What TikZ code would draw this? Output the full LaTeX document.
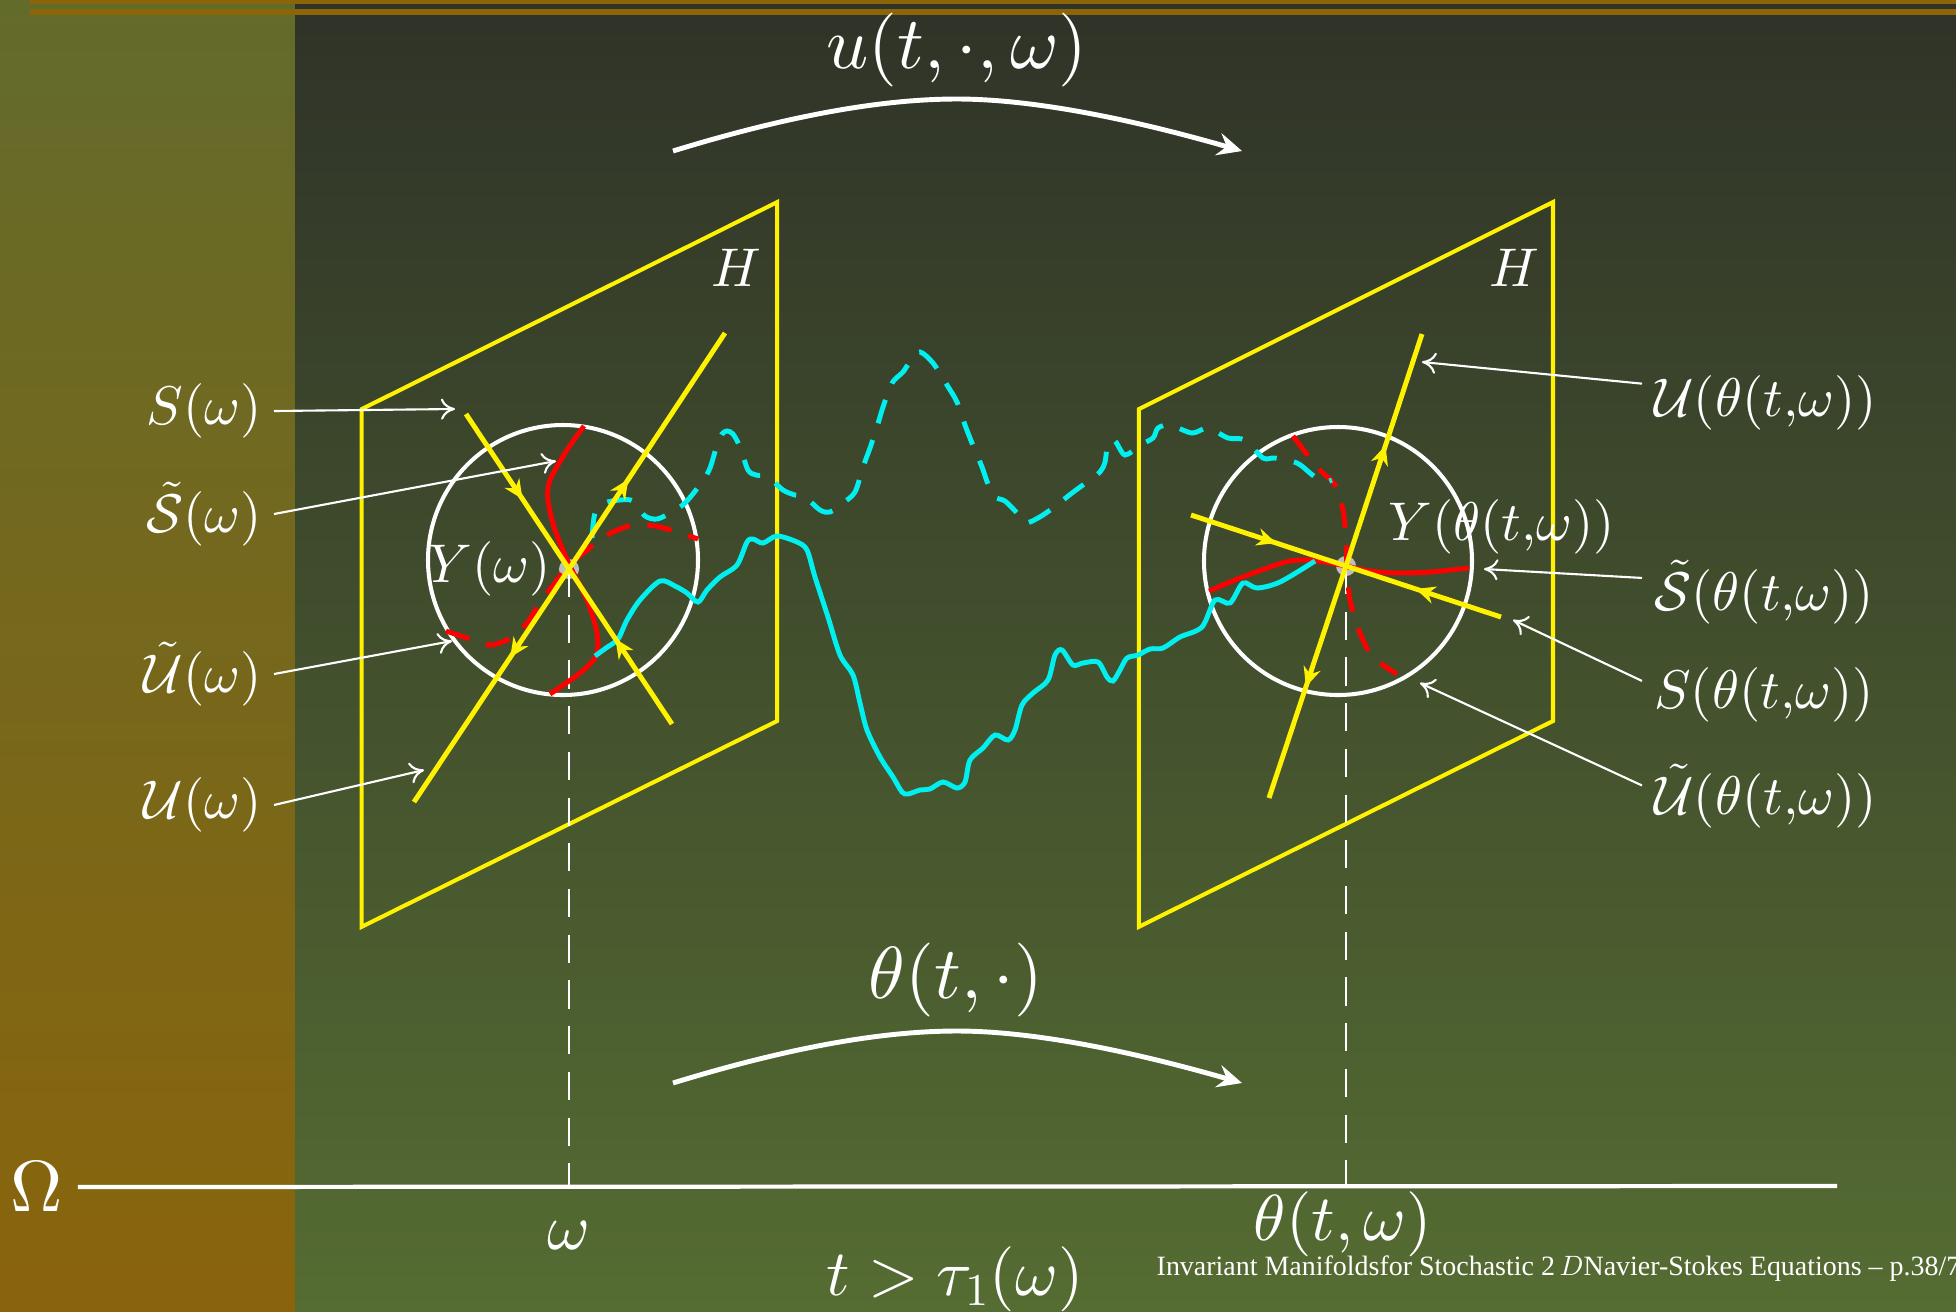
\documentclass[tikz,border=0pt]{standalone}
\usepackage{fontspec}
\usepackage{tikz}
\usetikzlibrary{positioning, arrows.meta, decorations.markings}
\DeclareFontShape{OML}{cmm}{m}{it}{<->cmmi10}{\skewchar\font=127}
\DeclareFontShape{OMS}{cmsy}{m}{n}{<->cmsy10}{\skewchar\font=48}
\DeclareFontShape{OMX}{cmex}{m}{n}{<->cmex10}{}
\DeclareFontShape{OT1}{cmr}{m}{n}{<->cmr10}{}
\newfontfamily\footfont{Liberation Serif}
\definecolor{stripetop}{HTML}{636B2B}
\definecolor{stripebottom}{HTML}{8A640C}
\definecolor{slidetop}{HTML}{2F3328}
\definecolor{slidebottom}{HTML}{556C32}
\definecolor{barbrown}{HTML}{8B6508}
\definecolor{dotgray}{HTML}{BEBEBE}
\definecolor{pathcyan}{HTML}{00F0F0}

\begin{document}
\begin{tikzpicture}[x=0.01cm, y=-0.01cm,
    lab/.style={text=white, font=\fontsize{15.5}{18}\selectfont},
    biglab/.style={text=white, font=\fontsize{21}{25}\selectfont},
    axlab/.style={text=white, font=\fontsize{18.5}{22}\selectfont},
    plane/.style={draw=yellow, line width=1.15pt},
    ball/.style={draw=white, line width=1.15pt},
    manif/.style={draw=yellow, line width=1.4pt},
    redline/.style={draw=red, line width=1.4pt},
    cyanline/.style={draw=pathcyan, line width=1.4pt},
    dashy/.style={dash pattern=on 7pt off 5pt},
    drop/.style={draw=white, line width=0.6pt, dash pattern=on 8pt off 5pt},
    ptr/.style={draw=white, line width=0.6pt, -{To[length=4pt, width=6pt]}},
    flow/.style={draw=white, line width=1.4pt, -{Stealth[length=7pt, width=6.5pt, inset=2.5pt]}},
    ydot/.style={circle, fill=dotgray, minimum size=0.2cm, inner sep=0pt},
    tipat/.style={postaction={decorate, decoration={markings,
      mark=at position #1 with {\arrow{Stealth[length=5.5pt, width=5pt, inset=1.8pt]}}}}}]
  \useasboundingbox (0,0) rectangle (1956,1311);
  \shade[top color=stripetop, bottom color=stripebottom] (0,0) rectangle (295,1311);
  \shade[top color=slidetop, bottom color=slidebottom] (295,0) rectangle (1956,1311);
  \fill[barbrown] (30,0) rectangle (1956,4.3);
  \fill[barbrown] (30,9) rectangle (1956,15);

  % the two copies of H
  \draw[plane] (361.7,409.1) -- (777.1,202.1) -- (777.1,721) -- (361.7,926.8) -- cycle;
  \draw[plane] (1138.9,409.1) -- (1553,202.1) -- (1553,721) -- (1138.9,926.8) -- cycle;
  \node[lab] (H1) at (736,268) {$H$};
  \node[lab] (H2) at (1514,268) {$H$};

  \draw[ball] (563,560) circle (135);
  \draw[ball] (1338,561) circle (134);
  \node[ydot] (Y1) at (569,569) {};
  \node[ydot] (Y2) at (1346,566) {};

  % base space
  \node[text=white, font=\fontsize{20.6}{24}\selectfont, inner sep=4pt] (Om) at (37,1187) {$\Omega$};
  \coordinate (omEnd) at (1837,1186);
  \draw[white, line width=1.2pt] (Om.east) -- (omEnd);
  \draw[drop] (Y1.center) -- (Y1.center |- omEnd);
  \draw[drop] (Y2.center) -- (Y2.center |- omEnd);
  \node[axlab] (lw) at (569,1235) {$\omega$};
  \node[axlab] (ltw) at (1343,1224) {$\theta(t,\omega)$};
  \node[axlab] (ltau) at (955,1279) {$t>\tau_1(\omega)$};

  % local manifolds
  \draw[redline] plot[smooth] coordinates {(584,426) (567,450) (550,480) (548,500) (555,530)
    (569,564) (587,600) (597,633) (596,656) (580,673) (550,694)};
  \draw[redline, dashy] plot[smooth] coordinates {(446,631) (467,638) (490,645) (513,637)
    (527,623) (540,603) (557,580) (569,565) (587,550) (607,535) (633,525) (660,527) (698,539)};
  \draw[redline] plot[smooth] coordinates {(1209,591) (1240,578) (1270,567) (1290,561) (1310,560)
    (1330,563) (1346,566) (1370,571) (1397,573) (1430,572) (1469,568)};
  \draw[redline, dashy] plot[smooth] coordinates {(1293,436) (1317,467) (1335,485) (1343,510)
    (1346,540) (1347,567) (1350,600) (1360,633) (1373,657) (1397,674)};

  % trajectories
  \draw[cyanline] plot[smooth] coordinates {(595,656) (606,648) (618,639) (627,620) (640,600)
    (660,581) (675,586) (687,593) (698,602) (707,590) (720,577) (737,565) (747,542) (753,539)
    (763,543) (777,536) (797,542) (807,550) (815,577) (828,617) (840,655) (853,675) (860,703)
    (867,730) (880,757) (893,777) (902,792) (908,794) (920,790) (930,789) (943,782) (957,788)
    (965,782) (970,760) (983,748) (995,735) (1008,740) (1015,730) (1022,705) (1033,693)
    (1048,680) (1055,655) (1062,650) (1073,665) (1083,663) (1098,662) (1107,677) (1113,681)
    (1120,670) (1127,658) (1138,655) (1150,649) (1163,648) (1180,637) (1202,627) (1215,600)
    (1230,603) (1243,583) (1257,588) (1280,582) (1315,561)};
  \draw[cyanline, dashy] plot[smooth] coordinates {(592,538) (595,513) (605,503) (620,500)
    (633,501) (645,516) (657,519) (670,513) (685,503) (702,482) (710,468) (717,445) (722,434)
    (727,431) (733,434) (740,447) (748,470) (756,475) (768,477) (783,490) (795,495) (805,497)
    (820,510) (830,512) (843,503) (855,492) (863,467) (870,448) (877,427) (883,407) (892,383)
    (903,372) (911,360) (920,352) (933,363) (947,385) (957,402) (965,425) (972,443) (982,467)
    (988,484) (995,497) (1005,501) (1017,513) (1025,523) (1038,518) (1053,508) (1072,493)
    (1087,482) (1100,472) (1105,462) (1108,443) (1115,441) (1125,455) (1140,445) (1153,438)
    (1158,428) (1170,425) (1192,433) (1208,428) (1228,438) (1245,440) (1263,458) (1275,458)
    (1297,463) (1310,473) (1322,482) (1332,480)};

  % stable and unstable directions
  \coordinate (s1a) at (466,414);
  \coordinate (s1b) at (672,724);
  \coordinate (u1a) at (725,333);
  \coordinate (u1b) at (414,802);
  \draw[manif, tipat=0.55] (s1a) -- (Y1.center);
  \draw[manif, tipat=0.55] (s1b) -- (Y1.center);
  \draw[manif, tipat=0.38] (Y1.center) -- (u1a);
  \draw[manif, tipat=0.38] (Y1.center) -- (u1b);
  \coordinate (s2a) at (1191,515);
  \coordinate (s2b) at (1501,617);
  \coordinate (u2a) at (1422,334);
  \coordinate (u2b) at (1269,798);
  \draw[manif, tipat=0.55] (s2a) -- (Y2.center);
  \draw[manif, tipat=0.55] (s2b) -- (Y2.center);
  \draw[manif, tipat=0.52] (Y2.center) -- (u2a);
  \draw[manif, tipat=0.52] (Y2.center) -- (u2b);

  \node[lab, inner sep=0pt, left=2pt of Y1] (lY1) {$Y(\omega)$};
  \node[lab, inner sep=0pt, anchor=west] (lY2) at (1388,527) {$Y(\theta(t{,}\omega))$};

  % labels on the left
  \node[lab, anchor=east] (lS) at (274,411) {$S(\omega)$};
  \node[lab, anchor=east] (lSt) at (274,514) {$\tilde{\mathcal{S}}(\omega)$};
  \node[lab, anchor=east] (lUt) at (274,674) {$\tilde{\mathcal{U}}(\omega)$};
  \node[lab, anchor=east] (lU) at (274,805) {$\mathcal{U}(\omega)$};
  \coordinate (pS) at (455,409);
  \coordinate (pSt) at (556,461);
  \coordinate (pUt) at (452,641);
  \coordinate (pU) at (424,770);
  \draw[ptr] (lS.east) -- (pS);
  \draw[ptr] (lSt.east) -- (pSt);
  \draw[ptr] (lUt.east) -- (pUt);
  \draw[ptr] (lU.east) -- (pU);

  % labels on the right
  \node[lab, anchor=west] (rU) at (1642,403) {$\mathcal{U}(\theta(t{,}\omega))$};
  \node[lab, anchor=west] (rSt) at (1642,592) {$\tilde{\mathcal{S}}(\theta(t{,}\omega))$};
  \node[lab, anchor=west] (rS) at (1642,695) {$S(\theta(t{,}\omega))$};
  \node[lab, anchor=west] (rUt) at (1642,796) {$\tilde{\mathcal{U}}(\theta(t{,}\omega))$};
  \coordinate (qU) at (1422,362);
  \coordinate (qSt) at (1484,569);
  \coordinate (qS) at (1513,620);
  \coordinate (qUt) at (1420,683);
  \draw[ptr] ([yshift=5.5pt]rU.west) -- (qU);
  \draw[ptr] ([yshift=4pt]rSt.west) -- (qSt);
  \draw[ptr] ([yshift=4pt]rS.west) -- (qS);
  \draw[ptr] ([yshift=3pt]rUt.west) -- (qUt);

  % the two flows
  \node[biglab] (ut) at (957,50) {$u(t,\cdot,\omega)$};
  \coordinate (a1) at (673,151);
  \coordinate (m1) at (957,99);
  \coordinate (b1) at (1242,151);
  \draw[flow] (a1) .. controls (800,112) and (890,99) .. (m1) .. controls (1020,99) and (1110,113) .. (b1);
  \node[biglab] (tht) at (956,980) {$\theta(t,\cdot)$};
  \coordinate (a2) at (673,1083);
  \coordinate (m2) at (957,1031);
  \coordinate (b2) at (1242,1083);
  \draw[flow] (a2) .. controls (800,1044) and (890,1031) .. (m2) .. controls (1020,1031) and (1110,1045) .. (b2);

  \node[anchor=base west, inner sep=0pt, text=white, font=\footfont\fontsize{7.95}{9}\selectfont] (foot)
    at (1156,1275) {Invariant Manifoldsfor Stochastic 2\,$D$Navier-Stokes Equations – p.38/78};
\end{tikzpicture}
\end{document}
